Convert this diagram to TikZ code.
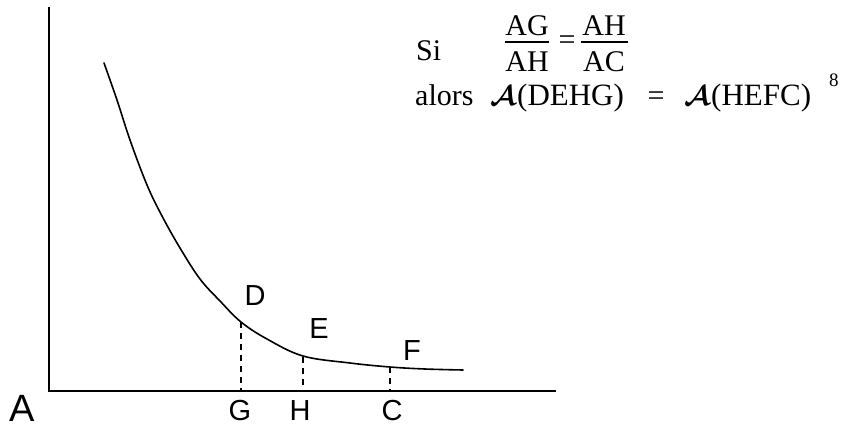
\documentclass[tikz,border=0pt]{standalone}
\usepackage{graphicx}
\usepackage{amsmath,bm}
\usepackage{fontspec}
\setmainfont{Liberation Serif}
\newfontfamily\handfont{Liberation Sans}
\newcommand{\calA}{\scalebox{2.8}{\fontsize{10}{12}\selectfont$\bm{\mathcal{A}}$}}
\tikzset{
  axisline/.style={line width=1.8pt},
  curveline/.style={line width=1.6pt, line cap=round},
  dropline/.style={line width=1.6pt, dash pattern=on 6pt off 5pt},
  txt/.style={inner sep=0pt, font=\fontsize{30}{34}\selectfont},
  hand/.style={inner sep=0pt, font=\handfont\fontsize{29}{32}\selectfont},
  fracbar/.style={line width=1.3pt}
}
\begin{document}
\begin{tikzpicture}[x=1pt,y=-1pt]
\useasboundingbox (0,0) rectangle (846,428);
% axes
\coordinate (top) at (49,7);
\coordinate (O) at (49,391);
\coordinate (right) at (556,391);
\draw[axisline] (top) -- (O) -- (right);
% curve
\coordinate (pD) at (241,322);
\coordinate (pE) at (303,357);
\coordinate (pF) at (390,367);
\draw[curveline] plot[smooth, tension=0.6] coordinates {(104,63) (117,100) (130,140) (147,185) (162,216) (180,248) (200,279) (220,301) (241,322) (267,339) (303,356) (350,363) (390,367) (425,369) (463,370)};
% feet
\coordinate (pG) at (241,391);
\coordinate (pH) at (303,391);
\coordinate (pC) at (390,391);
\draw[dropline] (pD) -- (pG);
\draw[dropline] (pE) -- (pH);
\draw[dropline] (pF) -- (pC);
% hand labels
\node[hand] (lD) at (255,296) {D};
\node[hand] (lE) at (319,329) {E};
\node[hand] (lF) at (412,351) {F};
\node[hand] (lG) at (240,411) {G};
\node[hand] (lH) at (300,411) {H};
\node[hand] (lC) at (392,411) {C};
\node[hand, font=\handfont\fontsize{38}{42}\selectfont] (lA) at (22,408) {A};
% formula line 1
\node[txt, anchor=base west] (si) at (416,60) {Si};
\node[txt, anchor=base] (n1) at (527,36) {AG};
\node[txt, anchor=base] (d1) at (527,71) {AH};
\draw[fracbar] (505,42) -- (549,42);
\node[txt] (eq1) at (567,43) {=};
\node[txt, anchor=base] (n2) at (604,36) {AH};
\node[txt, anchor=base] (d2) at (604,71) {AC};
\draw[fracbar] (581,42) -- (628,42);
% formula line 2
\node[txt, anchor=base west] (alors) at (415,105) {alors};
\node[txt, anchor=base] (cA1) at (503,105) {\calA};
\node[txt, anchor=base west, font=\fontsize{31}{34}\selectfont] (deh) at (517,105) {(DEHG)};
\node[txt, anchor=base] (eq2) at (656,105) {=};
\node[txt, anchor=base] (cA2) at (697,105) {\calA};
\node[txt, anchor=base west, font=\fontsize{31}{34}\selectfont] (hef) at (711,105) {(HEFC)};
\node[txt, anchor=base west, font=\fontsize{19}{22}\selectfont] (eight) at (829,87) {8};
\end{tikzpicture}
\end{document}
